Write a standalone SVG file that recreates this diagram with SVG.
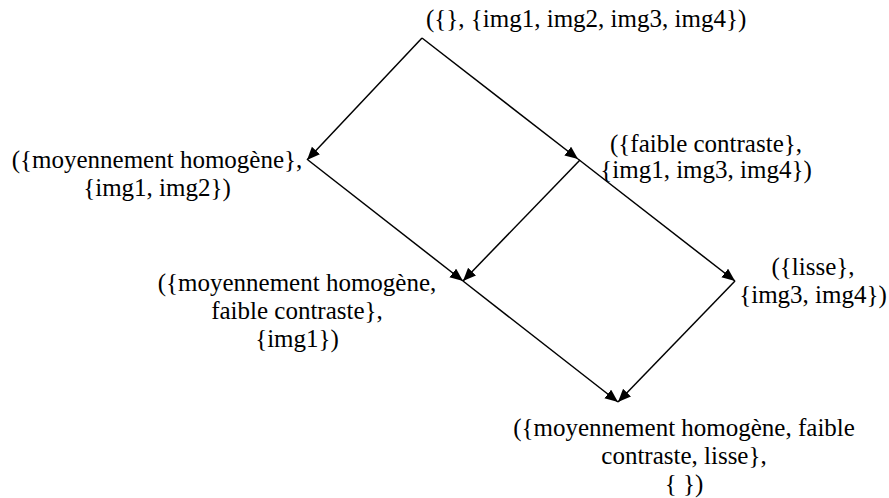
<svg xmlns="http://www.w3.org/2000/svg" width="889" height="498" viewBox="0 0 889 498">
<style>
text{font-family:"Liberation Serif","Times New Roman",serif;font-size:25px;fill:#000;text-anchor:middle}
.c{stroke:#000;stroke-width:1.5;fill:none;marker-end:url(#a)}
</style>
<defs>
<marker id="a" markerUnits="userSpaceOnUse" markerWidth="14" markerHeight="12" refX="13" refY="5.5" orient="auto"><path d="M0,0 L13,5.5 L0,11 z" fill="#000"/></marker>
</defs>
<rect width="889" height="498" fill="#fff"/>
<g id="connectors">
<line class="c" x1="422" y1="38" x2="307" y2="160"/>
<line class="c" x1="422" y1="38" x2="578" y2="159"/>
<line class="c" x1="308" y1="160" x2="463" y2="281"/>
<line class="c" x1="580" y1="160" x2="463" y2="281"/>
<line class="c" x1="578" y1="159" x2="735" y2="281"/>
<line class="c" x1="463" y1="281" x2="618" y2="402"/>
<line class="c" x1="735" y1="281" x2="618" y2="402"/>
</g>
<g id="n0"><text x="426" y="27" style="text-anchor:start">({}, {img1, img2, img3, img4})</text></g>
<g id="n1"><text x="157" y="168">({moyennement homogène},</text><text x="157" y="196">{img1, img2})</text></g>
<g id="n2"><text x="706" y="152">({faible contraste},</text><text x="706" y="178">{img1, img3, img4})</text></g>
<g id="n3"><text x="297" y="291">({moyennement homogène,</text><text x="297" y="319">faible contraste},</text><text x="297" y="347">{img1})</text></g>
<g id="n4"><text x="813" y="275">({lisse},</text><text x="813" y="303">{img3, img4})</text></g>
<g id="n5"><text x="684" y="436">({moyennement homogène, faible</text><text x="684" y="464">contraste, lisse},</text><text x="684" y="492">{ })</text></g>
</svg>
